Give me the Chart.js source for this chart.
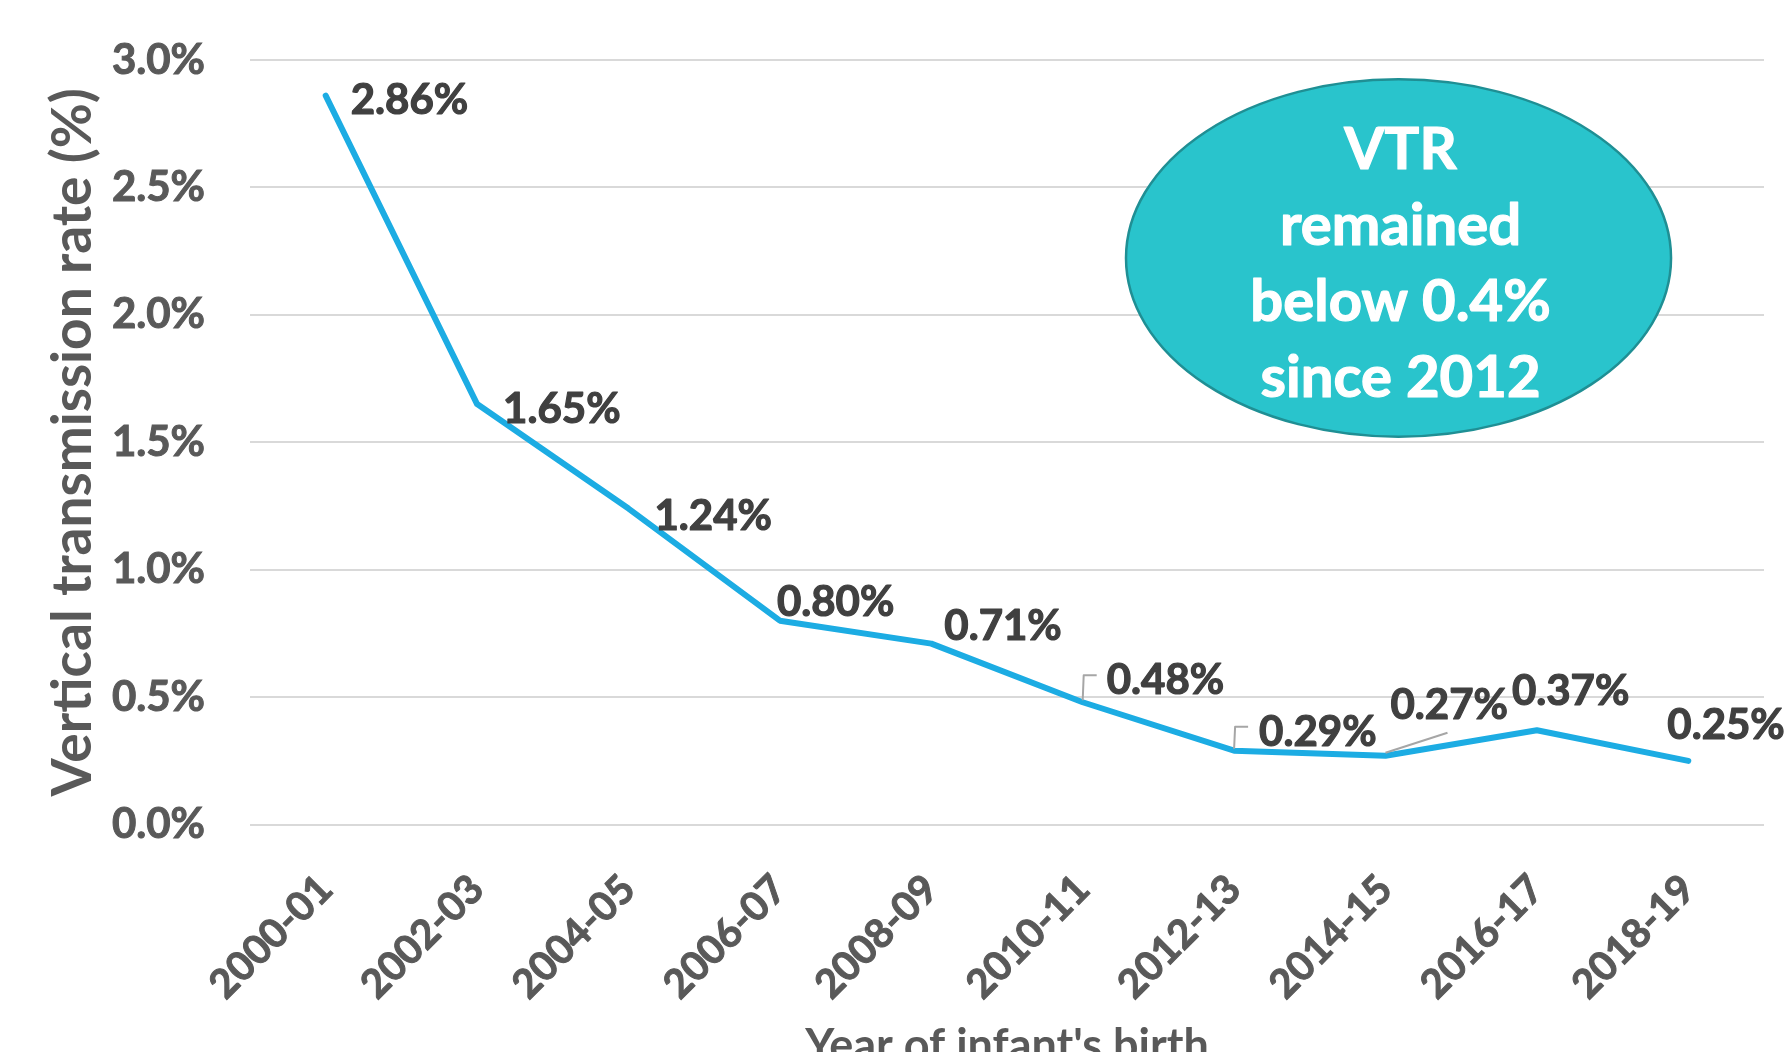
<!DOCTYPE html>
<html><head><meta charset="utf-8">
<script src="https://cdn.jsdelivr.net/npm/chart.js@4.4.1/dist/chart.umd.min.js"></script>
<style>
html,body{margin:0;padding:0;background:#fff;overflow:hidden;}
#wrap{position:absolute;left:0;top:0;width:1787px;height:1080px;}
</style></head><body>
<div id="wrap"><canvas id="c"></canvas></div>
<script>
// ---- data ----
const categories = ['2000-01','2002-03','2004-05','2006-07','2008-09','2010-11','2012-13','2014-15','2016-17','2018-19'];
const vtrValues = [2.86, 1.65, 1.24, 0.80, 0.71, 0.48, 0.29, 0.27, 0.37, 0.25];
const valueLabels = ['2.86%','1.65%','1.24%','0.80%','0.71%','0.48%','0.29%','0.27%','0.37%','0.25%'];
const yTickValues = [0, 0.5, 1.0, 1.5, 2.0, 2.5, 3.0];
const yTickLabels = ['0.0%','0.5%','1.0%','1.5%','2.0%','2.5%','3.0%'];
const yTitle = 'Vertical transmission rate (%)';
const xTitle = "Year of infant's birth";
const calloutLines = ['VTR','remained','below 0.4%','since 2012'];

// ---- styling (label placement relative to points, px) ----
const labelOffsets = [[25,3],[26,4],[26,6],[-3,-20],[13,-19],[24,-23],[25,-20],[5,-52],[-25,-40],[-21,-37]];
const leaderTypes = [null,null,null,null,null,'elbow','elbow','diag',null,null];
const calloutAnchor = {xIndex: 7.086, yValue: 2.223, xRadius: 1.80, yRadius: 0.701};
const FONT = "Lato, 'DejaVu Sans', sans-serif";
const W = 'bold';
const H = 1080;
const plotBottom = 824.6;

const labelPlugin = {
  id: 'valueLabels',
  afterDatasetsDraw(chart) {
    const ctx = chart.ctx;
    const meta = chart.getDatasetMeta(0);
    ctx.save();
    ctx.font = W + ' 42px ' + FONT;
    ctx.fillStyle = '#404040';
    ctx.strokeStyle = '#404040';
    ctx.lineWidth = 1.2;
    ctx.lineJoin = 'round';
    ctx.textAlign = 'left';
    ctx.textBaseline = 'alphabetic';
    meta.data.forEach((pt, i) => {
      const [dx, dy] = labelOffsets[i];
      const lx = pt.x + dx, mid = pt.y + dy;
      ctx.fillText(valueLabels[i], lx, mid + 15);
      ctx.strokeText(valueLabels[i], lx, mid + 15);
      const t = leaderTypes[i];
      if (t) {
        ctx.save();
        ctx.strokeStyle = '#A6A6A6';
        ctx.lineWidth = 2;
        ctx.beginPath();
        if (t === 'elbow') {
          ctx.moveTo(pt.x, pt.y - 2);
          ctx.lineTo(pt.x + 1, mid - 4);
          ctx.lineTo(pt.x + 14, mid - 4);
        } else {
          ctx.moveTo(pt.x, pt.y - 3);
          ctx.lineTo(pt.x + 62, pt.y - 23);
        }
        ctx.stroke();
        ctx.restore();
      }
    });
    ctx.restore();
  }
};

const calloutPlugin = {
  id: 'callout',
  afterDatasetsDraw(chart) {
    const {ctx, scales: {x, y}} = chart;
    const cx = x.getPixelForValue(calloutAnchor.xIndex);
    const cy = y.getPixelForValue(calloutAnchor.yValue);
    const rx = x.getPixelForValue(calloutAnchor.xIndex + calloutAnchor.xRadius) - cx;
    const ry = y.getPixelForValue(calloutAnchor.yValue - calloutAnchor.yRadius) - cy;
    ctx.save();
    ctx.beginPath();
    ctx.ellipse(cx, cy, rx, ry, 0, 0, Math.PI * 2);
    ctx.fillStyle = '#29C4CC';
    ctx.fill();
    ctx.lineWidth = 2.5;
    ctx.strokeStyle = '#1F8F94';
    ctx.stroke();
    ctx.fillStyle = '#FFFFFF';
    ctx.strokeStyle = '#FFFFFF';
    ctx.lineWidth = 1.2;
    ctx.lineJoin = 'round';
    ctx.font = W + ' 58px ' + FONT;
    ctx.textAlign = 'center';
    ctx.textBaseline = 'alphabetic';
    const step = 76.3;
    calloutLines.forEach((line, i) => {
      ctx.fillText(line, cx + 2, cy - 89.5 + i * step);
      ctx.strokeText(line, cx + 2, cy - 89.5 + i * step);
    });
    ctx.restore();
  }
};

function build() {
  new Chart(document.getElementById('c'), {
    type: 'line',
    data: {
      labels: categories,
      datasets: [{
        data: vtrValues,
        borderColor: '#1CACE3',
        borderWidth: 6,
        pointRadius: 0,
        pointHoverRadius: 0,
        tension: 0,
        fill: false,
        borderCapStyle: 'round',
        borderJoinStyle: 'round'
      }]
    },
    options: {
      responsive: true,
      maintainAspectRatio: false,
      animation: false,
      devicePixelRatio: 1,
      layout: {padding: {top: 60, right: 23, left: 0, bottom: 0}},
      plugins: {legend: {display: false}, tooltip: {enabled: false}},
      scales: {
        x: {
          type: 'category',
          offset: true,
          grid: {display: false},
          border: {display: false},
          ticks: {
            autoSkip: false,
            minRotation: 45,
            maxRotation: 45,
            padding: 33,
            color: '#595959',
            textStrokeColor: '#595959',
            textStrokeWidth: 1,
            font: {family: FONT, size: 40, weight: W}
          },
          title: {
            display: true,
            text: xTitle,
            color: '#595959',
            font: {family: FONT, size: 45, weight: W},
            padding: {top: 0, bottom: 7}
          },
          afterFit(scale) { scale.height = H - plotBottom; }
        },
        y: {
          min: 0,
          max: 3,
          afterBuildTicks(scale) { scale.ticks = yTickValues.map(v => ({value: v})); },
          grid: {color: '#D9D9D9', lineWidth: 2, drawTicks: false},
          border: {display: false},
          ticks: {
            padding: 45,
            color: '#595959',
            textStrokeColor: '#595959',
            textStrokeWidth: 1,
            font: {family: FONT, size: 42, weight: W},
            callback: (v) => { const i = yTickValues.indexOf(v); return i >= 0 ? yTickLabels[i] : ''; }
          },
          title: {
            display: true,
            text: yTitle,
            color: '#595959',
            font: {family: FONT, size: 55, weight: W},
            padding: {top: 40, bottom: 0}
          },
          afterFit(scale) { scale.width = 250; scale.paddingTop = 0; scale.paddingBottom = 0; }
        }
      }
    },
    plugins: [calloutPlugin, labelPlugin]
  });
}
Promise.all([
  document.fonts.load(W + ' 40px Lato'),
  document.fonts.load(W + ' 58px Lato')
]).then(build, build);
</script>
</body></html>
